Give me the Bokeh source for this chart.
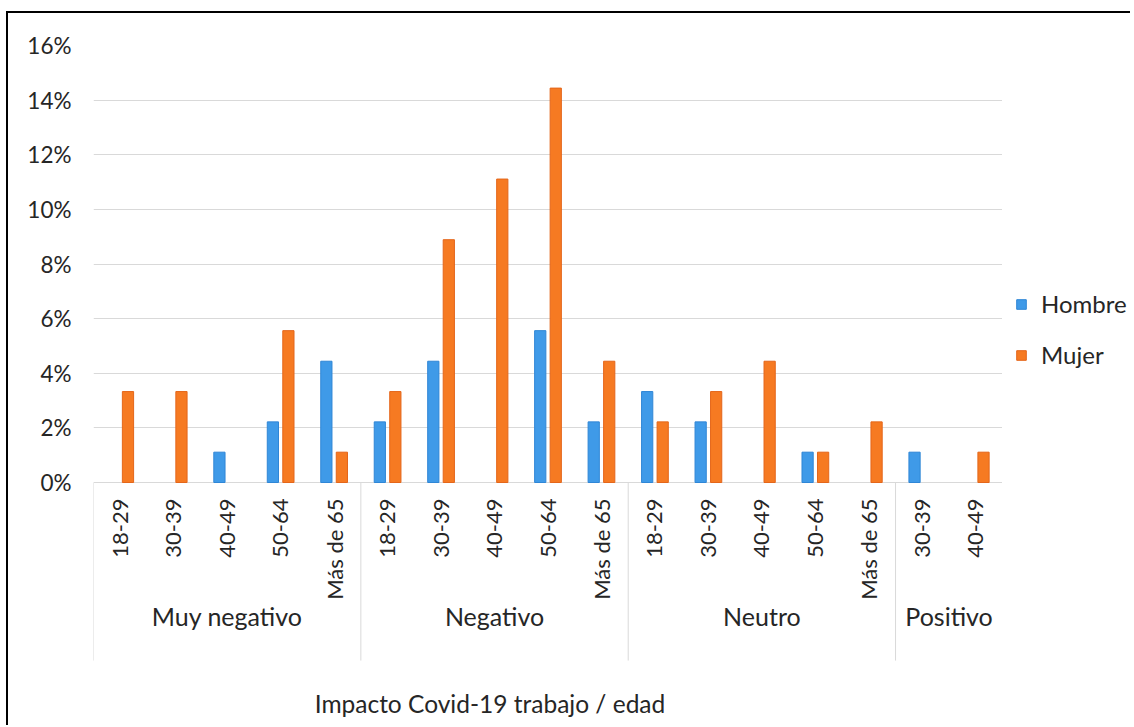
import math
from bokeh.plotting import figure
from bokeh.layouts import row
from bokeh.models import (FactorRange, ColumnDataSource, FixedTicker, NumeralTickFormatter,
                          Legend, LegendItem, Range1d, CDSView, BooleanFilter)
from bokeh.transform import dodge
from bokeh.core.properties import value
from bokeh.embed import file_html
from bokeh.resources import INLINE

# ---------------- data ----------------
groups = ["Muy negativo", "Negativo", "Neutro", "Positivo"]
ages_muy_negativo = ["18-29", "30-39", "40-49", "50-64", "Más de 65"]
ages_negativo = ["18-29", "30-39", "40-49", "50-64", "Más de 65"]
ages_neutro = ["18-29", "30-39", "40-49", "50-64", "Más de 65"]
ages_positivo = ["30-39", "40-49"]
hombre = [0, 0, 1.11, 2.22, 4.44,
          2.22, 4.44, 0, 5.56, 2.22,
          3.33, 2.22, 0, 1.11, 0,
          1.11, 0]
mujer = [3.33, 3.33, 0, 5.56, 1.11,
         3.33, 8.89, 11.11, 14.44, 4.44,
         2.22, 3.33, 4.44, 1.11, 2.22,
         0, 1.11]
series = ["Hombre", "Mujer"]
colors = ["#3f9ae8", "#f67a22"]
edge_colors = ["#2f86d6", "#e4661a"]
y_ticks = [0, 2, 4, 6, 8, 10, 12, 14, 16]
x_title = "Impacto Covid-19 trabajo / edad"

# ---------------- build ----------------
ages_per_group = [ages_muy_negativo, ages_negativo, ages_neutro, ages_positivo]
factors = [(g, a) for g, ages in zip(groups, ages_per_group) for a in ages]
values = {"hombre": [v / 100 for v in hombre], "mujer": [v / 100 for v in mujer]}

FONT = "Lato"
TXT = "#262626"
H = 712
OFFSETS = [-0.145, 0.145]

y_start = -0.08897      # frame extends below the axis to host category labels
sep_depth = -0.0652     # depth of category separators
x_range = FactorRange(factors=factors, factor_padding=0, group_padding=0,
                      subgroup_padding=0, range_padding=0)
y_range = Range1d(y_start, max(y_ticks) / 100)

p = figure(width=994, height=H, x_range=x_range, y_range=y_range,
           x_axis_location=None, output_backend="svg", toolbar_location=None,
           min_border_left=85, min_border_top=32, min_border_right=0, min_border_bottom=0)
p.outline_line_color = None
p.xgrid.grid_line_color = None

ticker = FixedTicker(ticks=[t / 100 for t in y_ticks])
p.yaxis.ticker = ticker
p.yaxis.formatter = NumeralTickFormatter(format="0%")
p.yaxis.axis_line_color = None
p.yaxis.major_tick_line_color = None
p.yaxis.minor_tick_line_color = None
p.yaxis.major_tick_out = 0
p.yaxis.major_label_standoff = 22
p.yaxis.major_label_text_font = FONT
p.yaxis.major_label_text_font_size = "22.5px"
p.yaxis.major_label_text_color = TXT
p.ygrid.ticker = ticker
p.ygrid.grid_line_color = "#d9d9d9"
p.ygrid.grid_line_width = 1

src = ColumnDataSource(dict(x=factors, **values))
views = {k: CDSView(filter=BooleanFilter([v > 0 for v in vals])) for k, vals in values.items()}

for key, off, c, ec in zip(values.keys(), OFFSETS, colors, edge_colors):
    p.vbar(x=dodge("x", off, range=x_range), top=key, width=0.21, source=src,
           view=views[key], fill_color=c, line_color=ec, line_width=1)

# category separators (computed from group sizes)
bounds = [0]
for ages in ages_per_group:
    bounds.append(bounds[-1] + len(ages))
p.segment(x0=bounds, y0=[0] * len(bounds), x1=bounds, y1=[sep_depth] * len(bounds),
          line_color="#d9d9d9", line_width=1)

# age labels (rotated)
p.text(x=factors, y=[0] * len(factors), text=[a for _, a in factors], angle=math.pi / 2,
       text_align="right", text_baseline="middle", y_offset=16,
       text_font=value(FONT), text_font_size=value("22px"), text_color=TXT)
# group labels
p.text(x=groups, y=[0] * len(groups), text=groups, text_align="center",
       text_baseline="middle", y_offset=133,
       text_font=value(FONT), text_font_size=value("25px"), text_color=TXT)
# axis title
TITLE_X = 7.415
p.text(x=[TITLE_X], y=[0], text=[x_title], text_align="center", text_baseline="middle",
       y_offset=221, text_font=value(FONT), text_font_size=value("24.5px"), text_color=TXT)

# ---------------- legend panel ----------------
q = figure(width=128, height=H, x_range=x_range, y_range=y_range,
           x_axis_location=None, y_axis_location=None, output_backend="svg",
           toolbar_location=None, min_border=0)
q.outline_line_color = None
q.grid.visible = False
items = []
for key, name, off, c, ec in zip(values.keys(), series, OFFSETS, colors, edge_colors):
    r = q.vbar(x=dodge("x", off, range=x_range), top=key, width=0.21, source=src,
               view=views[key], fill_color=c, line_color=ec, visible=False)
    items.append(LegendItem(label=name, renderers=[r]))
legend = Legend(items=items, location=(13, 356), orientation="vertical",
                border_line_color=None, background_fill_alpha=0, padding=0, margin=0,
                spacing=22, glyph_width=12, glyph_height=12, label_standoff=14,
                label_height=28, label_text_font=FONT, label_text_font_size="24px",
                label_text_color=TXT)
q.add_layout(legend, "center")

layout = row(p, q)
layout.styles = {"border-left": "2px solid black", "border-top": "2px solid black",
                 "margin-left": "6px", "margin-top": "11px"}

open("out.html", "w").write(file_html(layout, INLINE))
